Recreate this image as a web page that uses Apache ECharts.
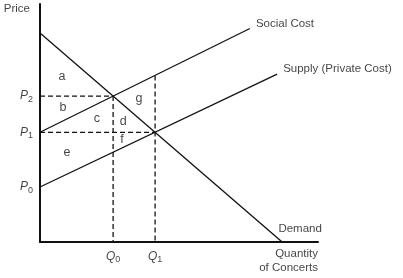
<!DOCTYPE html>
<html><head><meta charset="utf-8">
<script src="https://cdn.jsdelivr.net/npm/echarts@6/dist/echarts.min.js"></script>
<style>html,body{margin:0;padding:0;background:#fff}#c{width:403px;height:278px}</style>
</head><body><div id="c"></div>
<script>
// Curve endpoints (data units: 0..100 on each axis)
var demand = [[0, 87.8], [87.1, 0]];
var socialCost = [[0, 46.1], [75.5, 89.7]];
var supply = [[0, 23.1], [85.3, 70.5]];
var curveNames = ['Demand', 'Social Cost', 'Supply (Private Cost)'];
// Key quantities and prices
var qNames = ['Q0', 'Q1'];
var qValues = [26.3, 41.4];
var pNames = ['P0', 'P1', 'P2'];
var pValues = [23.1, 46.1, 61.3];
var q1Top = 70.0; // social cost at Q1
// Area letters
var areaLetters = ['a', 'b', 'c', 'd', 'g', 'f', 'e'];
var areaX = [7.9, 8.3, 20.5, 29.9, 35.6, 29.5, 9.7];
var areaY = [69.7, 56.3, 51.7, 50.8, 60.1, 42.9, 37.4];

var font = 'Liberation Sans, Arial, sans-serif';
var black = '#111';

function lineSeries(data) {
  return { type: 'line', data: data, symbol: 'none', silent: true, lineStyle: { color: black, width: 1.3 } };
}
function dashed(data) {
  return { type: 'line', data: data, symbol: 'none', silent: true, lineStyle: { color: black, width: 1.3, type: [5, 3] } };
}
function textLabel(point, name, cfg) {
  return {
    type: 'scatter', symbolSize: 0, silent: true,
    data: [{ value: point, name: name }],
    label: Object.assign({ show: true, formatter: '{b}', color: black, fontSize: 11.5, fontFamily: font }, cfg)
  };
}
var subRich = {
  p: { fontStyle: 'italic', fontSize: 12, fontFamily: font, color: black },
  s: { fontSize: 9, fontFamily: font, color: black, padding: [6, 0, 0, 0] }
};

var option = {
  animation: false,
  grid: { left: 40, right: 85, top: 4, bottom: 36 },
  xAxis: { type: 'value', min: 0, max: 100, axisLine: { lineStyle: { color: black, width: 2 } }, axisTick: { show: false }, axisLabel: { show: false }, splitLine: { show: false } },
  yAxis: { type: 'value', min: 0, max: 100, axisLine: { lineStyle: { color: black, width: 2 } }, axisTick: { show: false }, axisLabel: { show: false }, splitLine: { show: false } },
  series: [
    lineSeries(demand),
    lineSeries(socialCost),
    lineSeries(supply),
    dashed([[0, pValues[2]], [qValues[0], pValues[2]]]),
    dashed([[qValues[0], pValues[2]], [qValues[0], 0]]),
    dashed([[0, pValues[1]], [qValues[1], pValues[1]]]),
    dashed([[qValues[1], q1Top], [qValues[1], 0]]),
    textLabel(demand[1], curveNames[0], { position: 'top', distance: 7, offset: [18, 0] }),
    textLabel(socialCost[1], curveNames[1], { position: 'right', distance: 6, offset: [0, -5] }),
    textLabel(supply[1], curveNames[2], { position: 'right', distance: 6, offset: [0, -5] }),
    {
      type: 'scatter', symbolSize: 0, silent: true,
      data: areaLetters.map(function (t, i) { return { value: [areaX[i], areaY[i]], name: t }; }),
      label: { show: true, position: 'inside', formatter: '{b}', color: black, fontSize: 12.5, fontFamily: font }
    },
    {
      type: 'scatter', symbolSize: 0, silent: true,
      data: pNames.map(function (t, i) { return { value: [0, pValues[i]], name: t }; }),
      label: { show: true, position: 'left', distance: 7, formatter: function (p) { return '{p|P}{s|' + p.name.slice(1) + '}'; }, rich: subRich }
    },
    {
      type: 'scatter', symbolSize: 0, silent: true,
      data: qNames.map(function (t, i) { return { value: [qValues[i], 0], name: t }; }),
      label: { show: true, position: 'bottom', distance: 7, formatter: function (p) { return '{p|Q}{s|' + p.name.slice(1) + '}'; }, rich: subRich }
    },
    textLabel([0, 100], 'Price', { position: 'left', distance: 10, offset: [0, 5] }),
    textLabel([100, 0], 'Quantity\nof Concerts', { position: 'bottom', distance: 5, align: 'right', lineHeight: 14 })
  ]
};
var chart = echarts.init(document.getElementById('c'));
chart.setOption(option);
</script>
</body></html>
